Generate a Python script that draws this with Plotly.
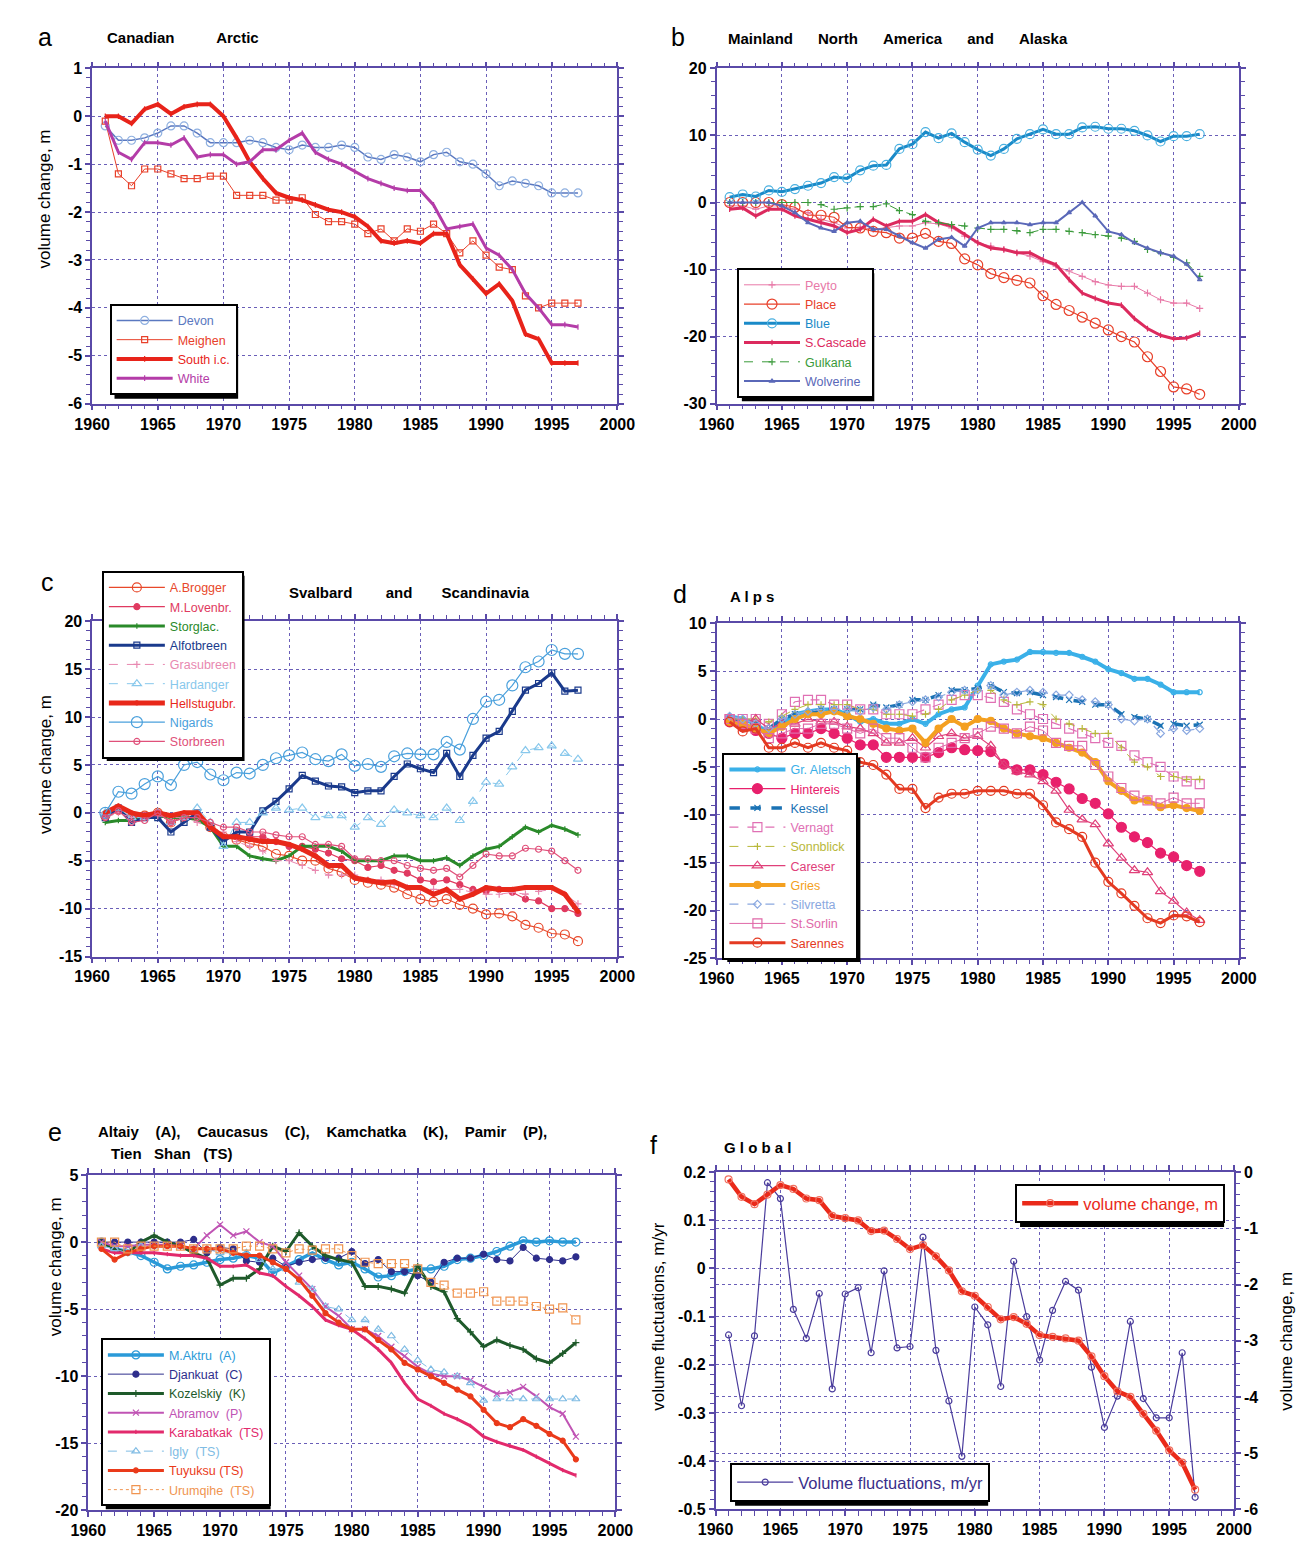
import plotly.graph_objects as go

W, H = 1316, 1541
FONT = "Liberation Sans"
AX = "#5a4aa8"      # axis / tick colour
GRID = "#6a5fb8"    # dotted grid colour

years = list(range(1961, 1998))
x_ticks = [1960, 1965, 1970, 1975, 1980, 1985, 1990, 1995, 2000]
x_labels = ["1960", "1965", "1970", "1975", "1980", "1985", "1990", "1995", "2000"]

# ── a: Canadian Arctic ──────────────────────────────────────────────────────
a_yticks = [-6, -5, -4, -3, -2, -1, 0, 1]
a_ylabels = ["-6", "-5", "-4", "-3", "-2", "-1", "0", "1"]
devon = [-0.2, -0.5, -0.5, -0.45, -0.35, -0.2, -0.2, -0.35, -0.55, -0.55,
         -0.55, -0.5, -0.55, -0.65, -0.7, -0.6, -0.65, -0.65, -0.6, -0.65,
         -0.85, -0.9, -0.8, -0.85, -0.95, -0.8, -0.75, -0.95, -1.0, -1.2,
         -1.45, -1.35, -1.4, -1.45, -1.6, -1.6, -1.6]
meighen = [-0.1, -1.2, -1.45, -1.1, -1.1, -1.2, -1.3, -1.3, -1.25, -1.25,
           -1.65, -1.65, -1.65, -1.75, -1.75, -1.7, -2.05, -2.2, -2.2, -2.25,
           -2.45, -2.35, -2.6, -2.35, -2.4, -2.25, -2.45, -2.85, -2.6, -2.9,
           -3.15, -3.2, -3.75, -4.0, -3.9, -3.9, -3.9]
south_ic = [0.0, 0.0, -0.15, 0.15, 0.25, 0.05, 0.2, 0.25, 0.25, 0.0,
            -0.45, -0.95, -1.3, -1.6, -1.7, -1.75, -1.85, -1.95, -2.0, -2.1,
            -2.3, -2.6, -2.65, -2.6, -2.65, -2.45, -2.45, -3.1, -3.4, -3.7,
            -3.5, -3.85, -4.55, -4.65, -5.15, -5.15, -5.15]
white = [-0.1, -0.75, -0.9, -0.55, -0.55, -0.6, -0.45, -0.85, -0.8, -0.8,
         -1.0, -0.95, -0.7, -0.7, -0.5, -0.35, -0.75, -0.9, -1.0, -1.15,
         -1.3, -1.4, -1.5, -1.55, -1.55, -1.85, -2.35, -2.3, -2.25, -2.75,
         -2.9, -3.2, -3.7, -4.0, -4.35, -4.35, -4.4]

# ── b: Mainland North America and Alaska ────────────────────────────────────
b_yticks = [-30, -20, -10, 0, 10, 20]
b_ylabels = ["-30", "-20", "-10", "0", "10", "20"]
peyto = [-0.5, -0.5, -1.0, -0.5, -0.5, -1.0, -1.5, -2.5, -3.0, -3.8,
         -3.7, -4.0, -3.8, -3.5, -3.5, -3.0, -3.2, -3.8, -5.0, -6.0,
         -6.5, -7.0, -7.5, -8.0, -8.8, -9.5, -10.2, -11.0, -11.8, -12.3,
         -12.5, -12.5, -13.5, -14.5, -15.0, -15.0, -15.8]
place = [0.0, 0.0, 0.0, 0.0, -0.3, -0.7, -1.9, -1.9, -2.2, -3.7,
         -3.8, -4.3, -4.5, -5.3, -5.3, -4.6, -5.8, -6.1, -8.4, -9.3,
         -10.6, -11.2, -11.6, -12.0, -13.9, -15.2, -16.1, -17.1, -18.0, -19.0,
         -20.0, -20.8, -23.0, -25.2, -27.5, -27.8, -28.6]
blue_gl = [0.8, 1.2, 0.9, 1.8, 1.6, 2.0, 2.5, 2.9, 3.8, 3.6,
           4.8, 5.5, 5.6, 8.0, 8.7, 10.5, 9.6, 10.3, 9.0, 7.9,
           7.0, 8.0, 9.5, 10.2, 10.9, 10.2, 10.2, 11.2, 11.3, 11.0,
           11.0, 10.7, 10.0, 9.1, 9.9, 9.9, 10.2]
s_cascade = [-1.0, -0.8, -2.0, -1.0, -1.0, -2.0, -2.5, -3.0, -3.5, -4.5,
             -4.0, -2.5, -3.5, -2.8, -2.8, -1.8, -3.0, -3.5, -4.8, -6.0,
             -6.8, -7.0, -7.5, -7.5, -8.5, -9.3, -11.5, -13.5, -14.3, -15.0,
             -15.3, -17.3, -18.8, -19.8, -20.3, -20.2, -19.5]
gulkana = [0.0, 0.0, 0.0, 0.0, 0.0, 0.0, 0.0, -0.3, -1.0, -0.8,
           -0.6, -0.6, -0.2, -1.2, -1.8, -2.8, -3.0, -3.3, -3.5, -3.8,
           -4.0, -4.0, -4.2, -4.5, -4.0, -4.0, -4.3, -4.5, -4.8, -5.0,
           -5.3, -5.8, -7.0, -7.5, -8.2, -9.0, -11.0]
wolverine = [0.0, 0.0, 0.0, 0.0, -0.5, -1.5, -3.0, -3.8, -4.3, -3.0,
             -2.8, -4.0, -4.0, -5.0, -6.0, -6.8, -5.5, -5.2, -6.5, -3.8,
             -3.0, -3.0, -3.0, -3.3, -3.0, -3.0, -1.5, 0.0, -2.0, -4.3,
             -4.8, -6.0, -6.8, -7.5, -8.0, -9.2, -11.5]

# ── c: Svalbard and Scandinavia ─────────────────────────────────────────────
c_yticks = [-15, -10, -5, 0, 5, 10, 15, 20]
c_ylabels = ["-15", "-10", "-5", "0", "5", "10", "15", "20"]
a_brogger = [-0.3, 0.3, -0.5, -0.3, 0.0, -1.0, -0.5, -0.3, -1.5, -2.5,
             -2.8, -3.2, -3.5, -4.3, -4.5, -5.0, -5.0, -5.8, -6.2, -7.0,
             -7.3, -7.5, -7.8, -8.5, -9.0, -9.3, -9.0, -9.6, -10.0, -10.6,
             -10.5, -10.8, -11.7, -12.0, -12.6, -12.7, -13.4]
m_lovenbr = [-0.3, 0.3, -0.5, -0.3, 0.0, -1.0, -0.3, 0.0, -1.5, -2.5,
             -2.5, -2.5, -2.5, -3.0, -3.5, -3.5, -3.8, -4.2, -4.8, -5.0,
             -5.7, -5.5, -6.0, -6.3, -7.0, -7.2, -7.0, -7.5, -8.0, -8.2,
             -8.0, -8.3, -9.0, -9.2, -10.0, -10.0, -10.5]
storglac = [-1.0, -0.8, -0.8, -0.5, -0.3, -0.5, -0.5, -0.7, -1.5, -3.5,
            -3.5, -4.5, -4.8, -5.0, -4.5, -3.5, -3.5, -3.5, -4.0, -5.0,
            -5.0, -5.0, -4.5, -4.5, -5.0, -5.0, -4.7, -5.5, -4.5, -3.8,
            -3.5, -2.5, -1.5, -2.0, -1.3, -1.7, -2.3]
alfotbreen = [-0.5, 0.5, -1.0, -0.5, -0.5, -2.0, -1.0, 0.0, -1.5, -3.0,
              -2.0, -2.0, 0.2, 1.2, 2.5, 3.9, 3.3, 2.8, 2.7, 2.1,
              2.3, 2.3, 3.8, 5.1, 4.6, 4.2, 6.2, 3.8, 6.0, 7.8,
              8.5, 10.6, 12.8, 13.5, 14.6, 12.7, 12.8]
grasubreen = [-0.5, 0.0, -0.5, -0.5, -0.3, -0.5, -0.5, -1.0, -1.5, -2.0,
              -3.0, -3.5, -4.0, -5.0, -5.0, -5.5, -6.0, -6.5, -6.5, -6.5,
              -7.0, -7.0, -7.5, -7.8, -8.0, -8.0, -8.0, -8.0, -8.3, -8.5,
              -8.5, -8.3, -8.5, -8.2, -8.0, -8.5, -9.5]
hardanger = [0.0, 0.5, -0.5, -0.5, 0.0, -1.0, -0.5, 0.5, -1.0, -3.5,
             -1.0, -1.0, 0.0, 0.5, 0.3, 0.5, -0.5, -0.3, -0.3, -1.5,
             -0.5, -1.2, 0.3, 0.0, -0.3, -0.5, 0.5, -0.8, 1.2, 3.2,
             3.0, 4.8, 6.5, 6.8, 7.0, 6.2, 5.6]
hellstugubr = [0.0, 0.7, 0.0, -0.3, 0.0, -0.3, 0.0, 0.0, -1.5, -2.5,
               -2.5, -2.8, -3.0, -3.0, -3.3, -3.8, -4.5, -5.5, -5.5, -6.8,
               -7.0, -7.3, -7.2, -7.8, -7.8, -8.5, -8.0, -9.0, -8.5, -7.8,
               -8.0, -8.0, -7.8, -7.8, -7.8, -8.5, -10.3]
nigards = [0.0, 2.2, 2.0, 3.0, 3.8, 2.9, 5.0, 5.3, 4.0, 3.4,
           4.2, 4.1, 5.0, 5.7, 6.0, 6.3, 5.6, 5.4, 6.1, 4.9,
           5.1, 4.8, 5.9, 6.2, 6.1, 6.1, 7.4, 6.6, 9.8, 11.6,
           11.8, 13.3, 15.2, 15.8, 17.0, 16.6, 16.6]
storbreen = [-0.5, 0.2, -1.0, -0.8, 0.0, -1.0, -0.5, -0.5, -1.0, -1.5,
             -1.5, -2.0, -2.0, -2.3, -2.5, -2.5, -3.3, -3.3, -3.5, -4.8,
             -4.8, -5.0, -5.0, -5.5, -5.8, -6.0, -5.8, -6.7, -5.5, -4.3,
             -4.5, -4.5, -3.7, -3.8, -4.0, -5.0, -6.0]

# ── d: Alps ─────────────────────────────────────────────────────────────────
d_yticks = [-25, -20, -15, -10, -5, 0, 5, 10]
d_ylabels = ["-25", "-20", "-15", "-10", "-5", "0", "5", "10"]
gr_aletsch = [0.3, 0.0, -0.5, -1.5, -0.5, 0.5, 0.8, 1.0, 1.0, 0.5,
              -0.3, 0.0, -0.5, -0.5, 0.0, -0.5, 0.5, 1.0, 1.2, 3.5,
              5.7, 6.0, 6.2, 7.0, 7.0, 6.9, 6.9, 6.5, 6.0, 5.2,
              4.8, 4.2, 4.2, 3.6, 2.8, 2.8, 2.8]
hintereis = [-0.3, -0.8, -1.2, -1.5, -2.0, -1.5, -1.5, -1.0, -1.5, -2.0,
             -2.7, -2.7, -4.0, -4.0, -4.0, -4.0, -3.5, -3.0, -3.2, -3.3,
             -3.4, -4.7, -5.3, -5.3, -5.8, -6.6, -7.3, -8.3, -8.8, -9.9,
             -11.3, -12.3, -12.9, -14.0, -14.4, -15.3, -15.9]
kessel = [0.0, -0.3, -0.5, -1.0, 0.0, 0.5, 0.5, 1.0, 1.0, 1.0,
          1.0, 1.5, 1.2, 1.5, 2.0, 2.0, 2.5, 3.0, 3.0, 3.2,
          3.5, 2.8, 2.7, 2.8, 2.5, 2.3, 2.0, 1.8, 1.5, 1.5,
          0.5, 0.2, 0.0, -0.7, -0.5, -0.7, -0.6]
vernagt = [0.0, 0.0, 0.0, -0.5, 0.5, 1.8, 2.0, 2.0, 1.5, 1.5,
           1.0, 1.0, 0.5, 0.5, 0.5, 1.0, 1.5, 2.0, 2.5, 2.5,
           2.2, 1.8, 1.0, 0.5, 0.0, -0.5, -1.0, -1.5, -2.0, -2.5,
           -2.8, -3.8, -4.5, -5.0, -6.0, -6.5, -6.8]
sonnblick = [0.0, 0.0, 0.0, -0.3, 0.3, 1.0, 1.5, 1.5, 1.5, 1.5,
             1.0, 1.0, 0.5, 0.5, 0.3, 0.5, 1.0, 2.0, 2.5, 3.0,
             3.0, 2.0, 1.5, 1.8, 1.5, 0.0, -0.5, -1.0, -1.5, -1.5,
             -3.0, -4.5, -5.0, -6.0, -6.0, -6.3, -6.3]
careser = [0.0, -0.5, 0.0, -1.0, -0.5, -0.5, 0.0, -0.3, -0.3, -0.8,
           -1.0, -1.5, -2.5, -2.5, -2.0, -3.0, -1.8, -1.5, -2.0, -1.8,
           -2.8, -4.8, -5.5, -5.8, -6.5, -7.5, -9.5, -10.5, -11.0, -13.0,
           -14.5, -15.8, -16.0, -18.0, -19.0, -20.2, -21.0]
gries = [-0.3, -0.5, -1.0, -1.5, -0.8, 0.0, 0.5, 0.5, 0.8, 0.3,
         0.0, -0.5, -1.0, -1.2, -1.0, -2.5, -1.0, 0.0, -0.8, 0.0,
         -0.2, -1.0, -1.5, -1.8, -2.0, -2.5, -3.0, -3.5, -4.5, -6.5,
         -7.5, -8.5, -8.5, -9.2, -9.0, -9.3, -9.6]
silvretta = [0.3, 0.0, -0.5, -1.0, 0.0, 0.5, 0.8, 1.0, 1.0, 1.0,
             0.8, 1.2, 1.0, 1.5, 1.8, 2.0, 2.3, 2.8, 3.0, 3.0,
             3.5, 2.5, 2.8, 3.0, 2.8, 2.5, 2.5, 2.0, 1.8, 1.5,
             0.0, -0.2, 0.0, -1.5, -1.0, -1.2, -1.0]
st_sorlin = [0.0, -0.5, -1.0, -2.0, -1.5, -1.0, -1.0, -0.5, -0.5, -1.0,
             -1.5, -1.0, -2.0, -2.0, -3.0, -4.0, -3.0, -2.5, -2.0, -1.5,
             -0.8, -1.0, -1.5, -0.8, -1.2, -2.5, -2.8, -2.8, -4.8, -6.0,
             -7.2, -8.0, -8.5, -8.8, -8.2, -8.8, -8.8]
sarennes = [-0.3, -1.3, -1.0, -3.0, -3.0, -2.5, -3.0, -2.5, -3.0, -3.3,
            -4.5, -4.8, -5.8, -7.3, -7.3, -9.3, -8.2, -7.8, -7.8, -7.5,
            -7.5, -7.5, -7.8, -7.8, -9.0, -10.8, -11.5, -12.3, -15.0, -17.0,
            -18.2, -19.5, -20.8, -21.3, -20.5, -20.6, -21.2]

# ── e: Altaiy, Caucasus, Kamchatka, Pamir, Tien Shan ────────────────────────
e_yticks = [-20, -15, -10, -5, 0, 5]
e_ylabels = ["-20", "-15", "-10", "-5", "0", "5"]
m_aktru = [0.0, -0.5, -0.7, -1.0, -1.5, -2.0, -1.8, -1.7, -1.5, -1.3,
           -1.2, -1.0, -1.2, -2.3, -1.8, -1.3, -0.8, -1.3, -1.7, -1.5,
           -2.0, -2.6, -2.5, -2.2, -2.0, -2.0, -1.8, -1.3, -1.2, -1.0,
           -0.7, -0.3, 0.1, 0.0, 0.1, 0.0, 0.0]
djankuat = [0.0, 0.0, 0.0, 0.0, 0.0, 0.0, 0.0, 0.2, -0.8, -0.4,
            -0.5, -1.4, -1.5, -1.2, -1.8, -1.5, -1.3, -1.2, -1.2, -0.7,
            -1.6, -1.3, -2.2, -2.2, -2.5, -3.0, -1.5, -1.2, -1.2, -0.9,
            -1.3, -1.4, -0.4, -1.2, -1.3, -1.4, -1.1]
kozelskiy = [0.0, -0.5, -0.8, 0.0, 0.5, 0.0, -0.3, -0.8, -1.2, -3.2,
             -2.7, -2.7, -2.0, -0.3, -0.7, 0.7, -0.3, -1.0, -1.3, -1.5,
             -3.3, -3.3, -3.5, -3.8, -1.8, -3.3, -3.7, -5.7, -6.7, -7.8,
             -7.3, -7.7, -8.0, -8.7, -9.0, -8.3, -7.5]
abramov = [0.0, -0.3, -0.3, -0.2, -0.2, -0.2, -0.3, -0.5, 0.5, 1.3,
           0.5, 0.8, 0.0, -0.3, -1.5, -2.5, -3.5, -4.8, -5.5, -6.5,
           -6.5, -7.0, -7.8, -8.5, -9.3, -9.8, -10.0, -10.0, -10.3, -10.8,
           -11.3, -11.2, -10.8, -11.5, -12.3, -12.8, -14.5]
karabatkak = [-0.5, -0.8, -0.8, -0.8, -0.8, -0.9, -1.0, -1.0, -1.2, -1.8,
              -1.8, -1.7, -2.3, -2.5, -3.3, -4.0, -4.8, -5.8, -6.2, -6.5,
              -7.2, -8.0, -9.0, -10.5, -11.7, -12.2, -12.8, -13.2, -13.7, -14.5,
              -14.9, -15.2, -15.5, -16.0, -16.5, -17.0, -17.4]
igly = [-0.3, -0.5, -0.8, -0.3, -0.3, -0.3, -0.3, -0.5, -0.5, -0.8,
        -0.8, -0.8, -1.3, -2.0, -2.0, -3.0, -3.5, -4.8, -5.0, -5.8,
        -5.8, -6.5, -7.0, -8.0, -8.8, -9.5, -9.7, -10.0, -10.5, -11.8,
        -11.7, -11.7, -11.7, -11.7, -11.7, -11.7, -11.7]
tuyuksu = [-0.5, -1.3, -0.8, -0.5, -0.3, -0.3, -0.3, -0.5, -0.5, -0.5,
           -0.8, -1.0, -1.0, -1.5, -2.0, -2.8, -4.0, -5.3, -6.0, -6.5,
           -6.5, -7.3, -8.0, -9.0, -9.5, -10.0, -10.5, -11.0, -11.5, -12.5,
           -13.5, -13.8, -13.2, -13.7, -14.3, -14.8, -16.2]
urumqihe = [0.0, 0.0, -0.5, -0.3, -0.3, -0.3, -0.3, -0.5, -0.5, -0.5,
            -0.5, -0.3, -0.3, -0.5, -0.8, -0.5, -0.6, -0.5, -0.5, -1.0,
            -1.5, -1.6, -1.6, -1.6, -2.0, -3.0, -3.2, -3.8, -3.8, -3.7,
            -4.4, -4.4, -4.4, -4.8, -5.0, -4.9, -5.8]

# ── f: Global ───────────────────────────────────────────────────────────────
f_yticks = [-0.5, -0.4, -0.3, -0.2, -0.1, 0, 0.1, 0.2]
f_ylabels = ["-0.5", "-0.4", "-0.3", "-0.2", "-0.1", "0", "0.1", "0.2"]
f_y2ticks = [-6, -5, -4, -3, -2, -1, 0]
f_y2labels = ["-6", "-5", "-4", "-3", "-2", "-1", "0"]
fluct = [-0.138, -0.285, -0.14, 0.178, 0.145, -0.085, -0.145, -0.052, -0.25, -0.053,
         -0.04, -0.175, -0.005, -0.165, -0.162, 0.065, -0.17, -0.275, -0.39, -0.08,
         -0.117, -0.245, 0.015, -0.1, -0.19, -0.087, -0.027, -0.045, -0.205, -0.33,
         -0.265, -0.11, -0.27, -0.31, -0.31, -0.175, -0.475]
vol_change = [-0.13, -0.44, -0.57, -0.4, -0.23, -0.3, -0.47, -0.5, -0.78, -0.82,
              -0.86, -1.05, -1.04, -1.19, -1.37, -1.3, -1.5, -1.75, -2.12, -2.2,
              -2.4, -2.62, -2.58, -2.7, -2.9, -2.93, -2.96, -3.0, -3.28, -3.63,
              -3.9, -4.0, -4.3, -4.6, -4.95, -5.17, -5.65]


def px(x):
    return x / W


def py(y):
    return 1 - y / H


fig = go.Figure()
legend_names = {}   # legend number -> entry names (to size the drop shadows)


def add(name, y, color, ax, leg, width=1.5, symbol="circle", size=6,
        dash="solid", mcolor=None, tcolor=None, ya=None):
    # one glacier series; legend text coloured like the line
    legend_names.setdefault(leg, []).append(name)
    fig.add_trace(go.Scatter(
        x=years, y=y, mode="lines+markers",
        name=f"<span style='color:{tcolor or color}'>{name}</span>",
        line=dict(color=color, width=width, dash=dash),
        marker=dict(symbol=symbol, size=size, color=mcolor or color,
                    line=dict(width=1.2, color=mcolor or color)),
        xaxis=f"x{ax}" if ax > 1 else "x",
        yaxis=ya or (f"y{ax}" if ax > 1 else "y"),
        legend="legend" if leg == 1 else f"legend{leg}",
    ))


# a
add("Devon", devon, "#5a78c0", 1, 1, 1.5, "circle-open", 8, mcolor="#8fb0e0")
add("Meighen", meighen, "#e8402a", 1, 1, 1, "square-open", 6)
add("South i.c.", south_ic, "#e8231a", 1, 1, 4, "line-ns-open", 4)
add("White", white, "#b43ca8", 1, 1, 3, "line-ns-open", 4)

# b
add("Peyto", peyto, "#e87aa8", 2, 2, 1, "cross-thin-open", 5)
add("Place", place, "#e8402a", 2, 2, 1.2, "circle-open", 10)
add("Blue", blue_gl, "#1a8ac8", 2, 2, 3, "circle-open", 9, mcolor="#4ab0e0")
add("S.Cascade", s_cascade, "#dc2a5e", 2, 2, 3, "line-ns-open", 4)
add("Gulkana", gulkana, "#3a9a3a", 2, 2, 1, "cross-thin-open", 5, dash="dash")
add("Wolverine", wolverine, "#5a68b8", 2, 2, 2, "triangle-up-open", 4)

# c
add("A.Brogger", a_brogger, "#e8482a", 3, 3, 1.2, "circle-open", 9)
add("M.Lovenbr.", m_lovenbr, "#e03a60", 3, 3, 1.2, "circle", 6)
add("Storglac.", storglac, "#2a8a2a", 3, 3, 3, "cross-thin-open", 4)
add("Alfotbreen", alfotbreen, "#1a3a8c", 3, 3, 3, "square-open", 6)
add("Grasubreen", grasubreen, "#e888b0", 3, 3, 1, "cross-thin-open", 5, dash="dash")
add("Hardanger", hardanger, "#88c8ec", 3, 3, 1, "triangle-up-open", 8, dash="dash")
add("Hellstugubr.", hellstugubr, "#e8281a", 3, 3, 5, "circle", 4)
add("Nigards", nigards, "#4aa0dc", 3, 3, 1.2, "circle-open", 11)
add("Storbreen", storbreen, "#e0507a", 3, 3, 1.2, "circle-open", 6)

# d
add("Gr. Aletsch", gr_aletsch, "#3ab0e8", 4, 4, 4, "circle-open", 5)
add("Hintereis", hintereis, "#e8206c", 4, 4, 1.2, "circle", 10)
add("Kessel", kessel, "#1a72b4", 4, 4, 3.5, "x-thin-open", 6, dash="dash")
add("Vernagt", vernagt, "#e070b4", 4, 4, 1.2, "square-open", 9, dash="dash")
add("Sonnblick", sonnblick, "#b8b83a", 4, 4, 1, "cross-thin-open", 5, dash="dash")
add("Careser", careser, "#e0407a", 4, 4, 1.2, "triangle-up-open", 9)
add("Gries", gries, "#f4a020", 4, 4, 4, "circle", 7)
add("Silvretta", silvretta, "#8aa8e0", 4, 4, 1.2, "diamond-open", 6, dash="dash")
add("St.Sorlin", st_sorlin, "#e068a8", 4, 4, 1, "square-open", 9)
add("Sarennes", sarennes, "#e43a22", 4, 4, 3, "circle-open", 9)

# e
nb = "\u00a0\u00a0"
add(f"M.Aktru{nb}(A)", m_aktru, "#2a9ad8", 5, 5, 3.5, "circle-open", 8)
add(f"Djankuat{nb}(C)", djankuat, "#2e2e8c", 5, 5, 1, "circle", 6)
add(f"Kozelskiy{nb}(K)", kozelskiy, "#1e5a2a", 5, 5, 3, "cross-thin-open", 5)
add(f"Abramov{nb}(P)", abramov, "#c054b4", 5, 5, 2, "x-thin-open", 6)
add(f"Karabatkak{nb}(TS)", karabatkak, "#e22a6c", 5, 5, 3, "line-ns-open", 3)
add(f"Igly{nb}(TS)", igly, "#80bce4", 5, 5, 1, "triangle-up-open", 7, dash="dash")
add("Tuyuksu\u00a0(TS)", tuyuksu, "#ea3a1a", 5, 5, 3, "circle", 5)
add(f"Urumqihe{nb}(TS)", urumqihe, "#f09450", 5, 5, 1, "square-open", 8, dash="dot")

# f
add("volume change, m", vol_change, "#ea2a1a", 6, 6, 4.5, "circle-open", 7,
    mcolor="#f07060", ya="y7")
add("Volume fluctuations, m/yr", fluct, "#4a3c9c", 6, 7, 1.2, "circle-open", 6,
    tcolor="#3a2e8a")


def axis(**kw):
    d = dict(showline=True, linecolor=AX, linewidth=1.5, mirror="allticks",
             ticks="outside", ticklen=5, tickcolor=AX, tickwidth=1.5,
             showgrid=True, gridcolor=GRID, griddash="dot", gridwidth=1,
             zeroline=False,
             tickfont=dict(family=FONT, size=16, color="black", weight="bold"))
    d.update(kw)
    return d


def minor(start, step):
    return dict(ticks="outside", ticklen=4, tickcolor=AX, tickwidth=1.2,
                tickmode="linear", tick0=start, dtick=step, showgrid=False)


# plot-area boxes in pixels: (left, right, top, bottom)
boxes = {
    1: (68, 608, 53, 392),
    2: (710, 1247, 53, 392),
    3: (68, 608, 612, 951),
    4: (710, 1247, 614, 953),
    5: (64, 606, 1172, 1511),
    6: (709, 1242, 1169, 1510),
}
y_specs = {
    1: (a_yticks, a_ylabels, 0.2),
    2: (b_yticks, b_ylabels, 2),
    3: (c_yticks, c_ylabels, 1),
    4: (d_yticks, d_ylabels, 1),
    5: (e_yticks, e_ylabels, 1),
    6: (f_yticks, f_ylabels, 0.02),
}

layout = {}
for i, (l, r, t, b) in boxes.items():
    sfx = "" if i == 1 else str(i)
    layout[f"xaxis{sfx}"] = axis(domain=[px(l), px(r)], range=[1960, 2000],
                                 tickvals=x_ticks, ticktext=x_labels,
                                 anchor=f"y{sfx}", minor=minor(1960, 1))
    vals, labels, mstep = y_specs[i]
    yax = axis(domain=[py(b), py(t)], range=[vals[0], vals[-1]],
               tickvals=vals, ticktext=labels, anchor=f"x{sfx}",
               minor=minor(vals[0], mstep))
    if i == 6:
        yax["mirror"] = False
    layout[f"yaxis{sfx}"] = yax

layout["yaxis7"] = axis(range=[-6, 0], tickvals=f_y2ticks, ticktext=f_y2labels,
                        overlaying="y6", side="right", anchor="x6", mirror=False,
                        minor=minor(-6, 0.2))

# Arial / Liberation Sans advance widths (per 1000 em), used to size the
# black drop shadow that sits behind each legend box
CHAR_W = {" ": 278, "\u00a0": 278, ".": 278, ",": 278, "/": 278, "(": 333, ")": 333}
CHAR_W.update({c: 667 for c in "ABEKPSVXY"})
CHAR_W.update({c: 722 for c in "CDHNRUw"})
CHAR_W.update({c: 556 for c in "abdeghnopqu0123456789L"})
CHAR_W.update({c: 500 for c in "ckszvxyJ"})
CHAR_W.update({"G": 778, "O": 778, "M": 833, "m": 833, "W": 944, "F": 611, "T": 611,
               "I": 278, "f": 278, "t": 278, "r": 333, "i": 222, "j": 222, "l": 222})


def text_width(s, size):
    return sum(CHAR_W.get(c, 556) for c in s) * size / 1000


ITEMW = 56
# legend top-left corners (pixels) and font sizes
legend_specs = {
    1: (86, 291, 12.5),
    2: (731, 255, 12.5),
    3: (78, 561, 12.5),
    4: (716, 745, 12.5),
    5: (77, 1337, 12.5),
    6: (1017, 1181, 16.5),
    7: (724, 1463, 16.5),
}
shapes = []
for k, (x, y, size) in legend_specs.items():
    layout["legend" if k == 1 else f"legend{k}"] = dict(
        x=px(x), y=py(y), xanchor="left", yanchor="top", bgcolor="white",
        bordercolor="black", borderwidth=2, itemwidth=ITEMW, tracegroupgap=0,
        font=dict(family=FONT, size=size))
    names = legend_names[k]
    w = max(text_width(n, size) for n in names) + ITEMW + 19
    h = len(names) * (max(1.3 * size, 16) + 3) + 14
    shapes.append(dict(type="rect", xref="paper", yref="paper", layer="above",
                       x0=px(x + 5), x1=px(x + w + 5), y0=py(y + h + 5), y1=py(y + 5),
                       fillcolor="black", line=dict(width=0)))


def sp(n):
    return "\u00a0" * n


annotations = []


def text(s, x, y, size=15, bold=True, angle=0, xanchor="left"):
    annotations.append(dict(text=f"<b>{s}</b>" if bold else s, x=px(x), y=py(y),
                            xref="paper", yref="paper", showarrow=False,
                            xanchor=xanchor, yanchor="middle", textangle=angle,
                            font=dict(family=FONT, size=size, color="black")))


# panel letters
for letter, x, y in [("a", 20, 21), ("b", 670, 21), ("c", 22, 572),
                     ("d", 672, 584), ("e", 30, 1128), ("f", 645, 1142)]:
    text(letter, x, y, size=25, bold=False, xanchor="center")

# panel titles
text("Canadian" + sp(10) + "Arctic", 81, 22)
text(sp(6).join(["Mainland", "North", "America", "and", "Alaska"]), 720, 23)
text("Svalbard" + sp(8) + "and" + sp(7) + "Scandinavia", 268, 583)
text("A l p s", 722, 587)
text(sp(4).join(["Altaiy", "(A),", "Caucasus", "(C),", "Kamchatka", "(K),",
                 "Pamir", "(P),"]), 72, 1128)
text(sp(3).join(["Tien", "Shan", "(TS)"]), 85, 1150)
text("G l o b a l", 716, 1144)

# axis titles
text("volume change, m", 20, 185, size=17, bold=False, angle=-90, xanchor="center")
text("volume change, m", 20, 757, size=17, bold=False, angle=-90, xanchor="center")
text("volume change, m", 30, 1265, size=17, bold=False, angle=-90, xanchor="center")
text("volume fluctuations, m/yr", 650, 1315, size=17, bold=False, angle=-90,
     xanchor="center")
text("volume change, m", 1296, 1340, size=17, bold=False, angle=-90, xanchor="center")

fig.update_layout(
    width=W, height=H,
    margin=dict(l=0, r=0, t=0, b=0),
    paper_bgcolor="white", plot_bgcolor="white",
    showlegend=True,
    shapes=shapes,
    annotations=annotations,
    **layout,
)

fig.write_html("out.html")
